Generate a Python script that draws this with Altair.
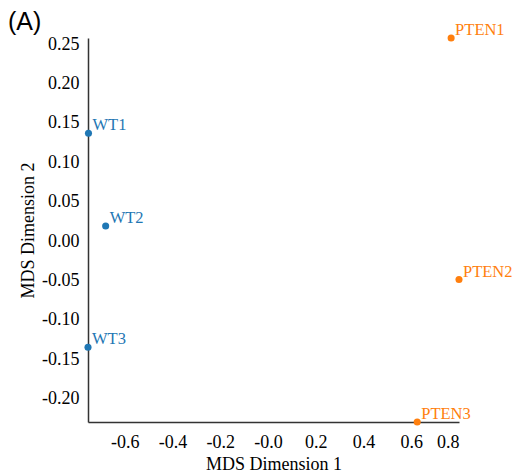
import altair as alt
import pandas as pd

names = ["WT1", "WT2", "WT3", "PTEN1", "PTEN2", "PTEN3"]
dim1 = [-0.752, -0.68, -0.754, 0.767, 0.80, 0.625]
dim2 = [0.137, 0.019, -0.135, 0.258, -0.049, -0.230]
group = ["WT", "WT", "WT", "PTEN", "PTEN", "PTEN"]
x_ticks = [-0.6, -0.4, -0.2, 0.0, 0.2, 0.4, 0.6, 0.8]
y_ticks = [0.25, 0.20, 0.15, 0.10, 0.05, 0.00, -0.05, -0.10, -0.15, -0.20]

df = pd.DataFrame({"name": names, "d1": dim1, "d2": dim2, "group": group})

color = alt.Color("group:N", scale=alt.Scale(domain=["WT", "PTEN"], range=["#1f77b4", "#ff7f0e"]), legend=None)

x = alt.X("d1:Q", title="MDS Dimension 1",
          scale=alt.Scale(domain=[min(dim1), max(dim1)], nice=False, zero=False),
          axis=alt.Axis(values=x_ticks,
                        labelExpr="abs(datum.value) < 1e-9 ? '-0.0' : (datum.value < 0 ? '-' : '') + format(abs(datum.value), '.1f')",
                        labelPadding=11, titlePadding=4))
y = alt.Y("d2:Q", title="MDS Dimension 2",
          scale=alt.Scale(domain=[min(dim2), max(dim2)], nice=False, zero=False),
          axis=alt.Axis(values=y_ticks,
                        labelExpr="(datum.value < -1e-9 ? '-' : '') + format(abs(datum.value), '.2f')",
                        labelPadding=9, titlePadding=4))

base = alt.Chart(df)
pts = base.mark_circle(size=50, opacity=1).encode(x=x, y=y, color=color)
lbl = base.mark_text(align="left", baseline="middle", dx=4, dy=-8, font="Liberation Serif", fontSize=16.5).encode(
    x="d1:Q", y="d2:Q", text="name:N", color=color)
tag = alt.Chart(pd.DataFrame({"t": ["(A)"]})).mark_text(
    align="left", baseline="middle", font="Liberation Sans", fontSize=25, color="black"
).encode(x=alt.value(-80), y=alt.value(-16), text="t:N")

chart = alt.layer(pts, lbl, tag).properties(
    width=371, height=384,
    autosize=alt.AutoSizeParams(type="none"),
    padding={"left": 80, "top": 30, "right": 53, "bottom": 50},
).configure_view(stroke=None).configure_axis(
    grid=False, ticks=False, domainColor="#333333", domainWidth=1.5,
    labelFont="Liberation Serif", labelFontSize=18, labelColor="black",
    titleFont="Liberation Serif", titleFontSize=18, titleFontWeight="normal", titleColor="black",
)

chart.save("out.html", embed_options={"renderer": "svg", "actions": False})
